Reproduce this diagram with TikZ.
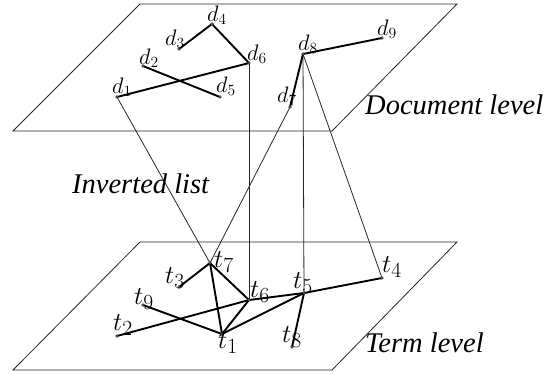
\documentclass[tikz,border=0pt]{standalone}
\usepackage{fontspec}
\newfontfamily\tnr{Liberation Serif}
\begin{document}
\begin{tikzpicture}[x=1pt,y=-1pt,
  plane/.style={draw=black!85,line width=0.8pt},
  thin/.style={draw=black!85,line width=0.8pt},
  thick/.style={draw=black,line width=1.9pt},
  dot/.style={circle,fill=black!70,inner sep=0pt,minimum size=3.2pt},
  dlab/.style={anchor=base west,inner sep=0pt,scale=1.08,font=\fontsize{20.74}{24}\selectfont},
  tlab/.style={anchor=base west,inner sep=0pt,scale=1.04,font=\fontsize{24.88}{28}\selectfont},
  lev/.style={anchor=base west,inner sep=0pt,font=\tnr\itshape\fontsize{28.5}{31}\selectfont}]
\useasboundingbox (0,0) rectangle (556,373);
% planes
\coordinate (p1) at (13,131); \coordinate (p2) at (332,131);
\coordinate (p3) at (457,4);  \coordinate (p4) at (140,4);
\coordinate (q1) at (13,370); \coordinate (q2) at (332,370);
\coordinate (q3) at (457,242); \coordinate (q4) at (140,242);
\draw[plane] (p1) -- (p2) -- (p3) -- (p4) -- cycle;
\draw[plane] (q1) -- (q2) -- (q3) -- (q4) -- cycle;
% document nodes
\node[dot] (d1) at (117,97) {};
\node[dot] (d2) at (143,66) {};
\node[dot] (d3) at (179,49) {};
\node[dot] (d4) at (212,24) {};
\node[dot] (d5) at (220,97) {};
\node[dot] (d6) at (249,63) {};
\node[dot] (d7) at (290,107) {};
\node[dot] (d8) at (303,54) {};
\node[dot] (d9) at (382,38) {};
% term nodes
\node[dot] (t1) at (222,334) {};
\node[dot] (t2) at (117,336) {};
\node[dot] (t3) at (179,287) {};
\node[dot] (t4) at (382,278) {};
\node[dot] (t5) at (304,293) {};
\node[dot] (t6) at (249,300) {};
\node[dot] (t7) at (210,263) {};
\node[dot] (t8) at (292,347) {};
\node[dot] (t9) at (143,305) {};
% inverted list connectors
\draw[thin] (d1.center) -- (t7.center);
\draw[thin] (d7.center) -- (t7.center);
\draw[thin] (d6.center) -- (t6.center);
\draw[thin] (d8.center) -- (t5.center);
\draw[thin] (d8.center) -- (t4.center);
% document level edges
\draw[thick] (d3.center) -- (d4.center) -- (d6.center);
\draw[thick] (d2.center) -- (d5.center);
\draw[thick] (d1.center) -- (d6.center);
\draw[thick] (d9.center) -- (d8.center) -- (d7.center);
% term level edges
\draw[thick] (t3.center) -- (t7.center) -- (t6.center);
\draw[thick] (t7.center) -- (t1.center);
\draw[thick] (t9.center) -- (t1.center);
\draw[thick] (t2.center) -- (t6.center) -- (t5.center) -- (t4.center);
\draw[thick] (t6.center) -- (t1.center) -- (t5.center);
\draw[thick] (t5.center) -- (t8.center);
% redraw dots on top
\foreach \n in {d1,d2,d3,d4,d5,d6,d7,d8,d9,t1,t2,t3,t4,t5,t6,t7,t8,t9}
  \fill[black!70] (\n.center) circle (1.6pt);
% labels
\node[dlab] (ld1) at (112,93) {$d_1$};
\node[dlab] (ld2) at (139,64) {$d_2$};
\node[dlab] (ld3) at (165,45) {$d_3$};
\node[dlab] (ld4) at (207,21) {$d_4$};
\node[dlab] (ld5) at (216,92) {$d_5$};
\node[dlab] (ld6) at (247,60) {$d_6$};
\node[dlab] (ld7) at (277,102) {$d_7$};
\node[dlab] (ld8) at (298,50) {$d_8$};
\node[dlab] (ld9) at (377,35) {$d_9$};
\node[tlab] (lt1) at (218,348) {$t_1$};
\node[tlab] (lt2) at (113,330) {$t_2$};
\node[tlab] (lt3) at (165,283) {$t_3$};
\node[tlab] (lt4) at (382,272) {$t_4$};
\node[tlab] (lt5) at (293,288) {$t_5$};
\node[tlab] (lt6) at (250,297) {$t_6$};
\node[tlab] (lt7) at (214,267) {$t_7$};
\node[tlab] (lt8) at (282,342) {$t_8$};
\node[tlab] (lt9) at (134,304) {$t_9$};
\node[lev] (doc) at (365,114) {Document level};
\node[lev] (inv) at (72,193) {Inverted list};
\node[lev] (term) at (365,352) {Term level};
\end{tikzpicture}
\end{document}
